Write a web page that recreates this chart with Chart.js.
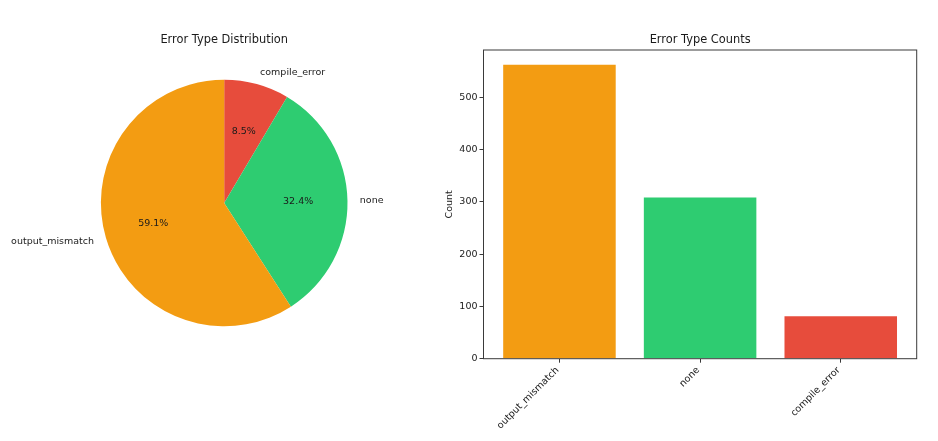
<!DOCTYPE html>
<html><head><meta charset="utf-8">
<script src="https://cdn.jsdelivr.net/npm/chart.js@4.4.0/dist/chart.umd.min.js"></script>
<style>
html,body{margin:0;padding:0;background:#fff;width:938px;height:441px;overflow:hidden}
canvas{position:absolute;left:0;top:0}
</style></head><body>
<canvas id="pie" width="938" height="441"></canvas>
<canvas id="bar" width="938" height="441"></canvas>
<script>
const categories = ['output_mismatch', 'none', 'compile_error'];
const counts = [562, 308, 81];
const colors = ['#f39c12', '#2ecc71', '#e74c3c'];
const yTicks = [0, 100, 200, 300, 400, 500];
const pieTitle = 'Error Type Distribution';
const barTitle = 'Error Type Counts';
const yLabel = 'Count';

const FONT = "'DejaVu Sans', sans-serif";
const TXT = '#1a1a1a';
const AX = '#3a3a3a';

// Pie draws clockwise from top; matplotlib draws counter-clockwise, so reverse order
const pieLabels = categories.slice().reverse();
const pieValues = counts.slice().reverse();
const pieColors = colors.slice().reverse();
const total = counts.reduce((a, b) => a + b, 0);

const pieText = {
  id: 'pieText',
  afterDraw(chart) {
    const ctx = chart.ctx;
    const meta = chart.getDatasetMeta(0);
    ctx.save();
    ctx.fillStyle = TXT;
    ctx.font = '11.4px ' + FONT;
    ctx.textAlign = 'center';
    ctx.textBaseline = 'middle';
    const ca = chart.chartArea;
    ctx.fillText(pieTitle, (ca.left + ca.right) / 2, 40);
    meta.data.forEach((arc, i) => {
      const p = arc.getProps(['x', 'y', 'startAngle', 'endAngle', 'outerRadius'], true);
      const mid = (p.startAngle + p.endAngle) / 2;
      const c = Math.cos(mid), s = Math.sin(mid);
      ctx.font = '9.5px ' + FONT;
      ctx.textBaseline = 'middle';
      ctx.textAlign = c > 0 ? 'left' : 'right';
      ctx.fillText(pieLabels[i], p.x + c * p.outerRadius * 1.1, p.y + s * p.outerRadius * 1.1);
      ctx.textAlign = 'center';
      const pct = (pieValues[i] / total * 100).toFixed(1) + '%';
      ctx.fillText(pct, p.x + c * p.outerRadius * 0.6, p.y + s * p.outerRadius * 0.6);
    });
    ctx.restore();
  }
};

new Chart(document.getElementById('pie'), {
  type: 'pie',
  data: {
    labels: pieLabels,
    datasets: [{ data: pieValues, backgroundColor: pieColors, borderWidth: 0 }]
  },
  options: {
    responsive: false,
    animation: false,
    layout: { padding: { left: 100.7, right: 590.3, top: 79.7, bottom: 114.7 } },
    plugins: { legend: { display: false }, tooltip: { enabled: false }, title: { display: false } }
  },
  plugins: [pieText]
});

const barText = {
  id: 'barText',
  afterDraw(chart) {
    const ctx = chart.ctx;
    const ca = chart.chartArea;
    ctx.save();
    ctx.strokeStyle = AX;
    ctx.lineWidth = 1;
    ctx.strokeRect(ca.left, ca.top, ca.right - ca.left, ca.bottom - ca.top);
    ctx.fillStyle = TXT;
    ctx.font = '11.4px ' + FONT;
    ctx.textAlign = 'center';
    ctx.textBaseline = 'middle';
    ctx.fillText(barTitle, (ca.left + ca.right) / 2, 40);
    ctx.font = '9.5px ' + FONT;
    ctx.translate(450, (ca.top + ca.bottom) / 2);
    ctx.rotate(-Math.PI / 2);
    ctx.fillText(yLabel, 0, 0);
    ctx.restore();
  }
};

new Chart(document.getElementById('bar'), {
  type: 'bar',
  data: {
    datasets: [{
      data: counts.map((v, i) => ({ x: i, y: v })),
      backgroundColor: colors,
      borderWidth: 0,
      categoryPercentage: 0.8,
      barPercentage: 1.0
    }]
  },
  options: {
    responsive: false,
    animation: false,
    layout: { padding: { left: 443.5, right: 21.3, top: 50, bottom: 2.3 } },
    plugins: { legend: { display: false }, tooltip: { enabled: false }, title: { display: false } },
    scales: {
      x: {
        type: 'linear', min: -0.54, max: 2.54, offset: false,
        afterBuildTicks: s => { s.ticks = categories.map((c, i) => ({ value: i })); },
        afterFit: s => { s.height = 80; },
        ticks: {
          callback: v => categories[v],
          minRotation: 45, maxRotation: 45, autoSkip: false,
          font: { family: FONT, size: 9.5 }, color: TXT, padding: 2, labelOffset: -2
        },
        grid: { offset: false, drawOnChartArea: false, drawTicks: true, tickLength: 4, tickColor: AX, color: AX },
        border: { display: false }
      },
      y: {
        min: 0, max: 590.1,
        afterBuildTicks: s => { s.ticks = yTicks.map(v => ({ value: v })); },
        afterFit: s => { s.width = 40; },
        ticks: { font: { family: FONT, size: 9.5 }, color: TXT, padding: 2 },
        grid: { drawOnChartArea: false, drawTicks: true, tickLength: 4, tickColor: AX, color: AX },
        border: { display: false }
      }
    }
  },
  plugins: [barText]
});
</script>
</body></html>
